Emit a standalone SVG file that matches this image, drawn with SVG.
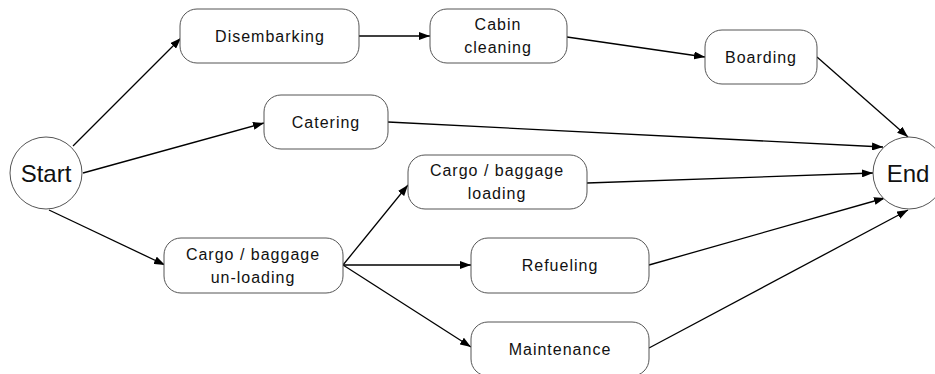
<svg xmlns="http://www.w3.org/2000/svg" width="935" height="374" viewBox="0 0 935 374">
<style>
.box{fill:#fff;stroke:#555;stroke-width:1}
.t{font-family:"Liberation Sans",Arial,sans-serif;font-size:16px;letter-spacing:1px;fill:#111;text-anchor:middle}
.big{font-family:"Liberation Sans",Arial,sans-serif;font-size:24px;fill:#111;text-anchor:middle}
.c{fill:none;stroke:#000;stroke-width:1.3;marker-end:url(#ah)}
</style>
<defs>
<marker id="ah" markerUnits="userSpaceOnUse" markerWidth="12" markerHeight="8" refX="11" refY="4" orient="auto">
<path d="M0,0 L11,4 L0,8 z" fill="#000"/>
</marker>
</defs>
<rect width="935" height="374" fill="#fff"/>
<g id="connectors">
<line class="c" x1="73" y1="146" x2="181" y2="38"/>
<line class="c" x1="83" y1="173" x2="264" y2="123"/>
<line class="c" x1="49" y1="210" x2="165" y2="265"/>
<line class="c" x1="359" y1="36" x2="430" y2="36"/>
<line class="c" x1="567" y1="37" x2="705" y2="57"/>
<line class="c" x1="817" y1="57" x2="908" y2="137"/>
<line class="c" x1="388" y1="122" x2="883" y2="147"/>
<line class="c" x1="587" y1="183" x2="873" y2="173"/>
<line class="c" x1="343" y1="265" x2="408" y2="185"/>
<line class="c" x1="343" y1="265" x2="471" y2="265"/>
<line class="c" x1="343" y1="265" x2="471" y2="347"/>
<line class="c" x1="649" y1="265" x2="885" y2="198"/>
<line class="c" x1="649" y1="348" x2="908" y2="210"/>
</g>
<g id="start"><circle class="box" cx="46" cy="173" r="36"/><text class="big" x="46" y="182">Start</text></g>
<g id="end"><circle class="box" cx="909" cy="173" r="36"/><text class="big" x="908" y="182">End</text></g>
<g id="disembarking"><rect class="box" x="180" y="9" width="179" height="54" rx="17"/><text class="t" x="270" y="42">Disembarking</text></g>
<g id="cabin"><rect class="box" x="430" y="9" width="137" height="54" rx="17"/><text class="t" x="498" y="30">Cabin</text><text class="t" x="498" y="53">cleaning</text></g>
<g id="boarding"><rect class="box" x="705" y="30" width="112" height="54" rx="17"/><text class="t" x="761" y="63">Boarding</text></g>
<g id="catering"><rect class="box" x="264" y="95" width="124" height="54" rx="17"/><text class="t" x="326" y="128">Catering</text></g>
<g id="cargo-loading"><rect class="box" x="408" y="155" width="179" height="54" rx="17"/><text class="t" x="497" y="176">Cargo / baggage</text><text class="t" x="497" y="199">loading</text></g>
<g id="cargo-unloading"><rect class="box" x="164" y="238" width="179" height="55" rx="17"/><text class="t" x="253" y="260">Cargo / baggage</text><text class="t" x="253" y="283">un-loading</text></g>
<g id="refueling"><rect class="box" x="471" y="238" width="178" height="55" rx="17"/><text class="t" x="560" y="271">Refueling</text></g>
<g id="maintenance"><rect class="box" x="471" y="322" width="178" height="54" rx="17"/><text class="t" x="560" y="355">Maintenance</text></g>
</svg>
